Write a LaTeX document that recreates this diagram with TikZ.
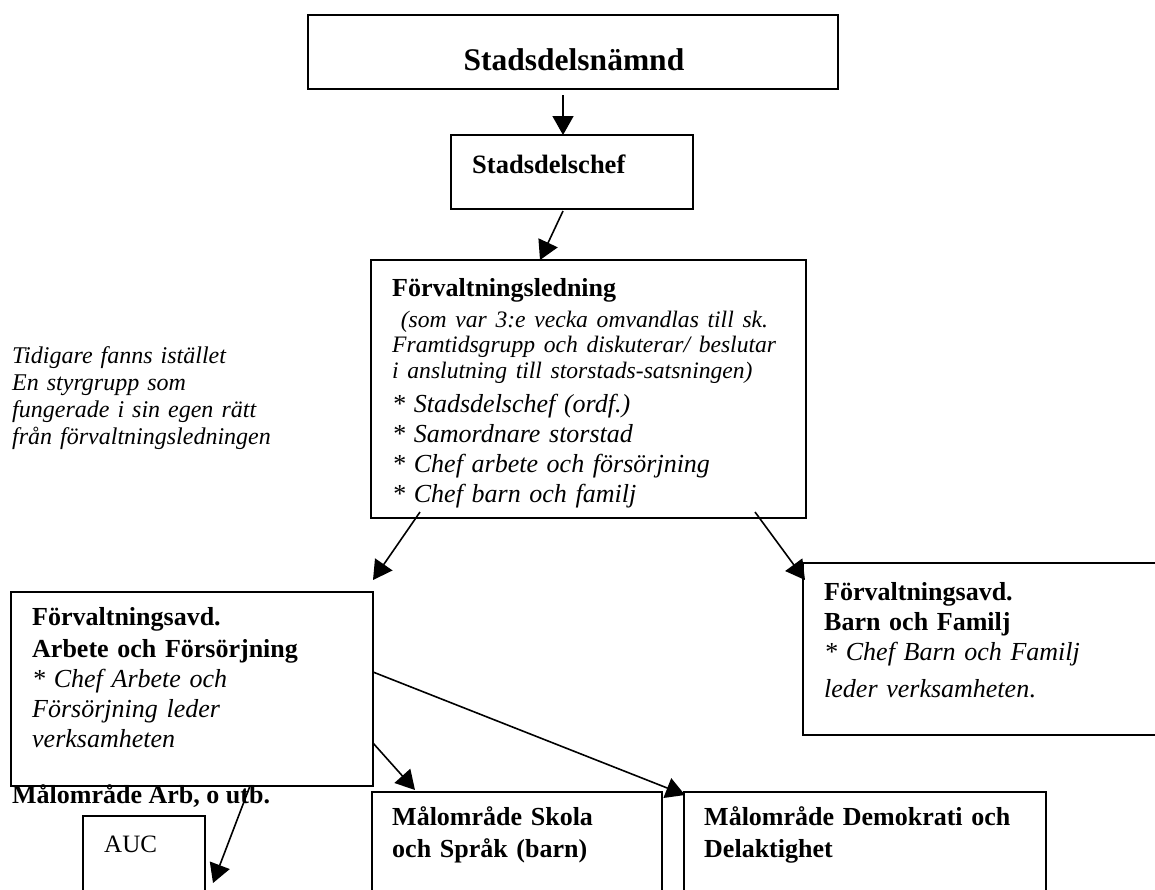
\documentclass[tikz,border=0pt]{standalone}
\usepackage{fontspec}
\setmainfont{Liberation Serif}
\usetikzlibrary{arrows.meta}

\begin{document}
\begin{tikzpicture}[x=1pt,y=-1pt,
  box/.style={draw, line width=1.8pt, anchor=north west, inner sep=0pt, outer sep=0pt},
  txt/.style={anchor=north west, inner sep=0pt, align=left, text width=420pt, font=\fontsize{26}{30}\selectfont},
  arr/.style={-{Triangle[length=19pt,width=21pt]}, line width=1.6pt}]
\useasboundingbox (0,0) rectangle (1155,889);
\clip (0,0) rectangle (1155,889);

% boxes
\node[box, minimum width=530pt, minimum height=74pt]  (nmd)   at (308,15)  {};
\node[box, minimum width=242pt, minimum height=74pt]  (chef)  at (451,135) {};
\node[box, minimum width=435pt, minimum height=258pt] (led)   at (371,260) {};
\node[box, minimum width=362pt, minimum height=194pt] (arb)   at (11,592)  {};
\node[box, minimum width=362pt, minimum height=172pt] (barn)  at (803,563) {};
\node[box, minimum width=122pt, minimum height=84pt]  (auc)   at (83,816)  {};
\node[box, minimum width=290pt, minimum height=110pt] (skola) at (372,792) {};
\node[box, minimum width=362pt, minimum height=110pt] (demo)  at (684,792) {};

% texts
\node[anchor=base, inner sep=0pt, font=\fontsize{31.5}{36}\selectfont\bfseries] (nmdtxt) at (574,70) {Stadsdelsnämnd};
\node[anchor=base west, inner sep=0pt, font=\fontsize{26.5}{30}\selectfont\bfseries] (cheftxt) at (472,173) {Stadsdelschef};
\node[txt] (ledtxt) at (392,275) {\strut\textbf{Förvaltningsledning}\\[1pt]
  {\fontsize{23.6}{30}\selectfont\itshape\ (som var 3:e vecka omvandlas till sk.}\\[-5pt]
  {\fontsize{23.6}{30}\selectfont\itshape Framtidsgrupp och diskuterar/ beslutar}\\[-4pt]
  {\fontsize{23.6}{30}\selectfont\itshape i anslutning till storstads-satsningen)}\\[4pt]
  \textit{* Stadsdelschef (ordf.)}\\
  \textit{* Samordnare storstad}\\
  \textit{* Chef arbete och försörjning}\\
  \textit{* Chef barn och familj}};
\node[txt, font=\fontsize{24}{27}\selectfont\itshape] (prevtxt) at (12,344.1) {\strut Tidigare fanns istället\\
  En styrgrupp som\\
  fungerade i sin egen rätt\\
  från förvaltningsledningen};
\node[txt] (arbtxt) at (32,604) {\strut\textbf{Förvaltningsavd.}\\[2pt]
  \textbf{Arbete och Försörjning}\\
  \textit{* Chef Arbete och}\\
  \textit{Försörjning leder}\\
  \textit{verksamheten}};
\node[txt] (barntxt) at (824,579) {\strut\textbf{Förvaltningsavd.}\\
  \textbf{Barn och Familj}\\
  \textit{* Chef Barn och Familj}\\[7pt]
  \textit{leder verksamheten}.};
\node[anchor=base west, inner sep=0pt, font=\fontsize{26}{30}\selectfont\bfseries] (malarb) at (12,803) {Målområde Arb, o utb.};
\node[anchor=base west, inner sep=0pt, font=\fontsize{25}{30}\selectfont] (auctxt) at (104,852) {AUC};
\node[txt, font=\fontsize{26}{32}\selectfont\bfseries] (skolatxt) at (392,802.6) {\strut Målområde Skola\\
  och Språk (barn)};
\node[txt, font=\fontsize{26}{32}\selectfont\bfseries] (demotxt) at (704,802.6) {\strut Målområde Demokrati och\\
  Delaktighet};

% arrows
\draw[arr] ([xshift=-10pt,yshift=-6pt]nmd.south) -- ([xshift=-9pt]chef.north);
\draw[arr] ([xshift=-9pt,yshift=-2pt]chef.south) -- ([xshift=-48.5pt]led.north);
\draw[arr] ([xshift=49pt,yshift=6pt]led.south west) -- ([yshift=12pt]arb.north east);
\draw[arr] ([xshift=-51pt,yshift=6pt]led.south east) -- ([xshift=2pt,yshift=-17pt]barn.north west);
\draw[arr] ([yshift=-54pt]arb.east) -- ([xshift=43pt,yshift=2pt]skola.north west);
\draw[arr] ([yshift=17pt]arb.east) -- ([xshift=1pt,yshift=-3pt]demo.north west);
\draw[arr] ([xshift=58pt]arb.south) -- ([xshift=8pt,yshift=17pt]auc.south east);
\end{tikzpicture}
\end{document}
